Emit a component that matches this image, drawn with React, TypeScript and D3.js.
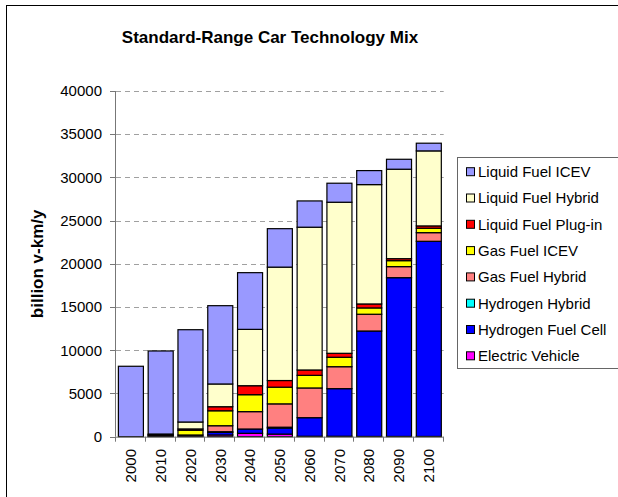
import React from "react";
import * as d3 from "d3";

const years = ["2000", "2010", "2020", "2030", "2040", "2050", "2060", "2070", "2080", "2090", "2100"];
// stacked bottom -> top
const electricVehicle = [0, 30, 50, 200, 390, 300, 50, 50, 30, 30, 30];
const hydrogenFuelCell = [0, 0, 0, 300, 500, 700, 2150, 5510, 12200, 18370, 22580];
const hydrogenHybrid = [0, 0, 0, 80, 0, 100, 0, 0, 0, 0, 0];
const gasFuelHybrid = [0, 50, 150, 690, 2010, 2700, 3440, 2540, 1940, 1280, 1000];
const gasFuelICEV = [0, 100, 550, 1730, 1960, 1930, 1460, 1090, 730, 690, 510];
const liquidFuelPlugin = [0, 50, 150, 470, 1040, 770, 620, 460, 460, 230, 270];
const liquidFuelHybrid = [0, 80, 800, 2630, 6520, 13120, 16520, 17480, 13810, 10350, 8680];
const liquidFuelICEV = [8150, 9610, 10680, 9060, 6560, 4450, 3040, 2200, 1620, 1150, 890];

const yTicks = [0, 5000, 10000, 15000, 20000, 25000, 30000, 35000, 40000];

const series = [
  { key: "Electric Vehicle", values: electricVehicle, color: "#FF00FF" },
  { key: "Hydrogen Fuel Cell", values: hydrogenFuelCell, color: "#0000FF" },
  { key: "Hydrogen Hybrid", values: hydrogenHybrid, color: "#00FFFF" },
  { key: "Gas Fuel Hybrid", values: gasFuelHybrid, color: "#FF8080" },
  { key: "Gas Fuel ICEV", values: gasFuelICEV, color: "#FFFF00" },
  { key: "Liquid Fuel Plug-in", values: liquidFuelPlugin, color: "#FF0000" },
  { key: "Liquid Fuel Hybrid", values: liquidFuelHybrid, color: "#FFFFCC" },
  { key: "Liquid Fuel ICEV", values: liquidFuelICEV, color: "#9999FF" },
];

export default function App() {
  const W = 618, H = 497;
  const left = 116, right = 443.7, top = 91, bottom = 436.7;
  const font = "Arial, 'Liberation Sans', Helvetica, sans-serif";

  const x = d3.scaleBand<string>().domain(years).range([left, right]).paddingInner(0.16).paddingOuter(0.08);
  const y = d3.scaleLinear().domain([0, 40000]).range([bottom, top]);

  const rows = years.map((yr, i) => {
    const o: any = { year: yr };
    series.forEach((s) => (o[s.key] = s.values[i]));
    return o;
  });
  const stacked = d3.stack<any>().keys(series.map((s) => s.key))(rows);
  const step = x.step();

  const legendOrder = [...series].reverse();

  return (
    <svg width={W} height={H} style={{ position: "absolute", left: 0, top: 0, background: "#fff" }} fontFamily={font}>
      <rect x={0} y={0} width={W} height={H} fill="#fff" />
      <rect x={6.5} y={5.5} width={W + 20} height={H + 20} fill="none" stroke="#000" strokeWidth={1} />
      <text x={270} y={43} textAnchor="middle" fontSize={17} fontWeight="bold">
        Standard-Range Car Technology Mix
      </text>
      {/* gridlines */}
      {yTicks.filter((t) => t > 0).map((t) => (
        <line key={"g" + t} x1={left} x2={right} y1={Math.round(y(t)) + 0.5} y2={Math.round(y(t)) + 0.5} stroke="#a0a0a0" strokeDasharray="5,4" />
      ))}
      {/* bars */}
      {stacked.map((layer, si) => (
        <g key={layer.key} fill={series[si].color}>
          {layer.map((d, i) =>
            d[1] - d[0] > 0 ? (
              <rect key={i} x={x(years[i])!} y={y(d[1])} width={x.bandwidth()} height={y(d[0]) - y(d[1])} stroke="#000" strokeWidth={1.2} />
            ) : null
          )}
        </g>
      ))}
      {/* y axis */}
      <line x1={left - 0.5} x2={left - 0.5} y1={top} y2={bottom} stroke="#777" />
      {yTicks.map((t) => (
        <g key={"yt" + t}>
          <line x1={left - 6} x2={left} y1={Math.round(y(t)) + 0.5} y2={Math.round(y(t)) + 0.5} stroke="#777" />
          <text x={102} y={y(t)} dy="0.35em" textAnchor="end" fontSize={15}>
            {t}
          </text>
        </g>
      ))}
      {/* x axis */}
      <line x1={left} x2={right} y1={bottom + 0.5} y2={bottom + 0.5} stroke="#777" />
      {d3.range(years.length + 1).map((i) => (
        <line key={"xt" + i} x1={Math.round(left + i * step) - 0.5} x2={Math.round(left + i * step) - 0.5} y1={bottom} y2={bottom + 5} stroke="#777" />
      ))}
      {years.map((yr) => {
        const cx = x(yr)! + x.bandwidth() / 2;
        return (
          <text key={"xl" + yr} transform={`translate(${cx},449) rotate(-90)`} dy="0.35em" textAnchor="end" fontSize={15}>
            {yr}
          </text>
        );
      })}
      {/* y label */}
      <text transform={`translate(37,${(top + bottom) / 2}) rotate(-90)`} dy="0.35em" textAnchor="middle" fontSize={17} fontWeight="bold">
        billion v-km/y
      </text>
      {/* legend */}
      <rect x={457.5} y={157.5} width={200} height={211} fill="#fff" stroke="#666" />
      {legendOrder.map((s, i) => {
        const cy = 171.7 + i * 26.3;
        return (
          <g key={"lg" + s.key}>
            <rect x={466.5} y={cy - 4} width={8} height={8} fill={s.color} stroke="#000" />
            <text x={478} y={cy} dy="0.36em" fontSize={15}>
              {s.key}
            </text>
          </g>
        );
      })}
    </svg>
  );
}
